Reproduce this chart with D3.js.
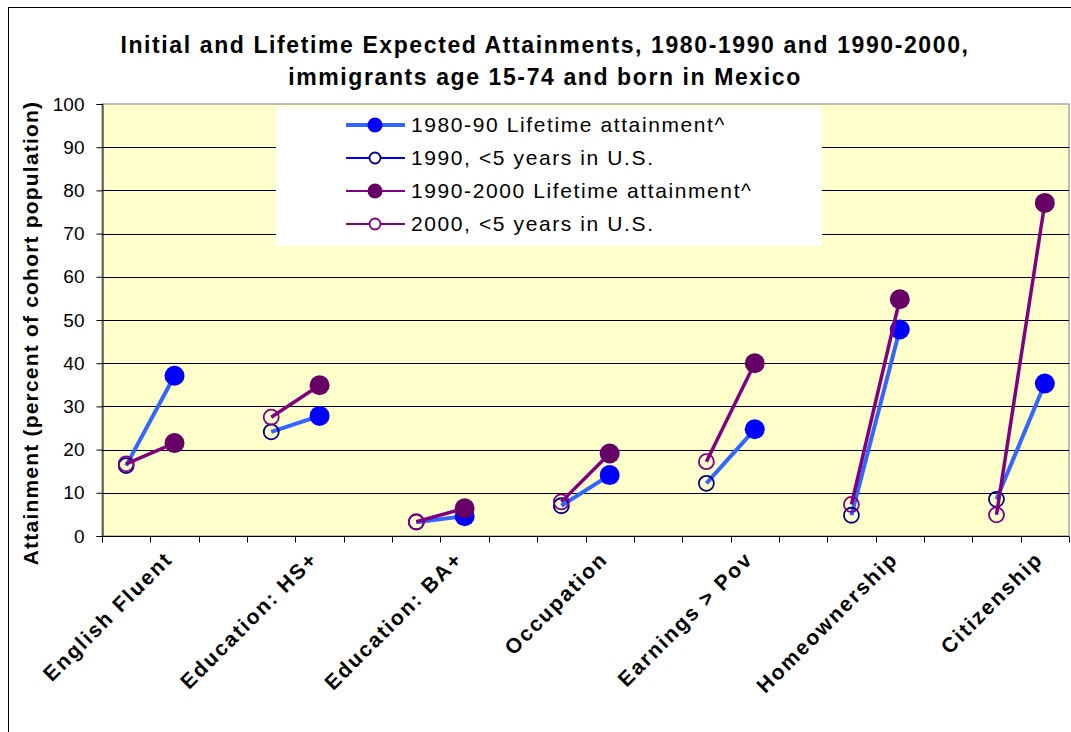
<!DOCTYPE html>
<html>
<head>
<meta charset="utf-8">
<script src="https://cdn.jsdelivr.net/npm/d3@7/dist/d3.min.js"></script>
<style>
  html, body { margin: 0; padding: 0; background: #fff; }
  svg { display: block; }
</style>
</head>
<body>
<svg id="chart" width="1071" height="732"></svg>
<script>
// ---- Data ----
const categories = ["English Fluent", "Education: HS+", "Education: BA+", "Occupation",
                    "Earnings > Pov", "Homeownership", "Citizenship"];
const initial1990   = [16.3, 24.1, 3.2, 7.0, 12.2, 4.8, 8.5];   // 1990, <5 years in U.S.
const lifetime8090  = [37.1, 27.8, 4.6, 14.1, 24.7, 47.8, 35.3]; // 1980-90 Lifetime attainment^
const initial2000   = [16.7, 27.5, 3.3, 7.9, 17.2, 7.3, 4.9];   // 2000, <5 years in U.S.
const lifetime9000  = [21.5, 34.9, 6.4, 19.1, 40.0, 54.8, 77.1]; // 1990-2000 Lifetime attainment^
const yTicks = [0, 10, 20, 30, 40, 50, 60, 70, 80, 90, 100];
const legendLabels = ["1980-90 Lifetime attainment^", "1990, <5 years in U.S.",
                      "1990-2000 Lifetime attainment^", "2000, <5 years in U.S."];
const titleLines = ["Initial and Lifetime Expected Attainments, 1980-1990 and 1990-2000,",
                    "immigrants age 15-74 and born in Mexico"];
const yTitle = "Attainment (percent of cohort population)";

// ---- Layout ----
const svg = d3.select("#chart");
const plot = { left: 102, right: 1069, top: 104, bottom: 536 };

// 20 slots: per category [initial, lifetime, gap], last without gap
const slots = [];
categories.forEach((c, i) => {
  slots.push(c + "|init");
  slots.push(c + "|life");
  if (i < categories.length - 1) slots.push(c + "|gap");
});

const x = d3.scaleBand().domain(slots).range([plot.left, plot.right]).paddingInner(0).paddingOuter(0);
const y = d3.scaleLinear().domain([0, 100]).range([plot.bottom, plot.top]);
const xc = s => x(s) + x.bandwidth() / 2;

const font = "'Liberation Sans', Arial, sans-serif";

// outer border
svg.append("rect").attr("x", 8.5).attr("y", 7.5).attr("width", 1100).attr("height", 800)
  .attr("fill", "#fff").attr("stroke", "#000").attr("stroke-width", 1);

// plot area
svg.append("rect").attr("x", plot.left).attr("y", plot.top)
  .attr("width", plot.right - plot.left).attr("height", plot.bottom - plot.top)
  .attr("fill", "#FFFFCC").attr("stroke", "#808080").attr("stroke-width", 1);

// gridlines
svg.append("g").selectAll("line").data(yTicks.filter(t => t > 0 && t < 100)).join("line")
  .attr("x1", plot.left).attr("x2", plot.right)
  .attr("y1", d => Math.round(y(d)) + 0.5).attr("y2", d => Math.round(y(d)) + 0.5)
  .attr("stroke", "#000").attr("stroke-width", 1);

// y axis
const yAxis = d3.axisLeft(y).tickValues(yTicks).tickSize(6).tickPadding(12);
const gy = svg.append("g").attr("transform", `translate(${plot.left + 0.5},0)`).call(yAxis);
gy.select(".domain").attr("stroke", "#000");
gy.selectAll(".tick line").attr("stroke", "#000");
gy.selectAll("text").attr("font-family", font).attr("font-size", 19).attr("fill", "#000");

// x axis (ticks at band boundaries)
const xAxisG = svg.append("g").attr("transform", `translate(0,${plot.bottom + 0.5})`);
xAxisG.append("line").attr("x1", plot.left).attr("x2", plot.right).attr("stroke", "#000");
const boundaries = slots.map(s => x(s)).concat([plot.right]);
xAxisG.selectAll("line.tk").data(boundaries).join("line").attr("class", "tk")
  .attr("x1", d => Math.round(d) + 0.5).attr("x2", d => Math.round(d) + 0.5)
  .attr("y1", 0).attr("y2", 6).attr("stroke", "#000");

// category labels
svg.append("g").selectAll("text").data(categories).join("text")
  .attr("transform", d => `translate(${xc(d + "|life") - 11},${plot.bottom + 14}) rotate(-45)`)
  .attr("text-anchor", "end").attr("dy", "0.7em")
  .attr("font-family", font).attr("font-weight", "bold").attr("font-size", 21)
  .attr("letter-spacing", 2)
  .attr("fill", "#000").text(d => d);

// series
const series = [
  { init: initial1990, life: lifetime8090, line: "#3366FF", lw: 4, fill: "#0000FF", open: "#000080" },
  { init: initial2000, life: lifetime9000, line: "#800080", lw: 3.5, fill: "#660066", open: "#800080" }
];
series.forEach(s => {
  const g = svg.append("g");
  g.selectAll("line").data(categories).join("line")
    .attr("x1", (c) => xc(c + "|init")).attr("y1", (c, i) => y(s.init[i]))
    .attr("x2", (c) => xc(c + "|life")).attr("y2", (c, i) => y(s.life[i]))
    .attr("stroke", s.line).attr("stroke-width", s.lw).attr("stroke-linecap", "butt");
  g.selectAll("circle.o").data(categories).join("circle").attr("class", "o")
    .attr("cx", c => xc(c + "|init")).attr("cy", (c, i) => y(s.init[i])).attr("r", 7.5)
    .attr("fill", "none").attr("stroke", s.open).attr("stroke-width", 1.8);
  g.selectAll("circle.f").data(categories).join("circle").attr("class", "f")
    .attr("cx", c => xc(c + "|life")).attr("cy", (c, i) => y(s.life[i])).attr("r", 10)
    .attr("fill", s.fill);
});

// legend
const lg = svg.append("g");
lg.append("rect").attr("x", 276).attr("y", 107).attr("width", 546).attr("height", 139).attr("fill", "#fff");
const legendItems = [
  { label: legendLabels[0], line: "#3366FF", lw: 4, marker: "filled", color: "#0000FF" },
  { label: legendLabels[1], line: "#0000FF", lw: 2, marker: "open", color: "#000080" },
  { label: legendLabels[2], line: "#800080", lw: 2, marker: "filled", color: "#660066" },
  { label: legendLabels[3], line: "#800080", lw: 2, marker: "open", color: "#800080" }
];
const rowY = [125, 158, 191, 224];
legendItems.forEach((it, i) => {
  const yy = rowY[i];
  lg.append("line").attr("x1", 346).attr("x2", 405).attr("y1", yy).attr("y2", yy)
    .attr("stroke", it.line).attr("stroke-width", it.lw);
  if (it.marker === "filled") {
    lg.append("circle").attr("cx", 375).attr("cy", yy).attr("r", 7.5).attr("fill", it.color);
  } else {
    lg.append("circle").attr("cx", 375).attr("cy", yy).attr("r", 5.5).attr("fill", "#fff")
      .attr("stroke", it.color).attr("stroke-width", 1.8);
  }
  lg.append("text").attr("x", 411).attr("y", yy).attr("dy", "0.35em")
    .attr("font-family", font).attr("font-size", 21).attr("letter-spacing", 1.6)
    .attr("fill", "#000").text(it.label);
});

// title
svg.append("g").selectAll("text").data(titleLines).join("text")
  .attr("x", 545).attr("y", (d, i) => 53 + i * 32).attr("text-anchor", "middle")
  .attr("font-family", font).attr("font-weight", "bold").attr("font-size", 23)
  .attr("letter-spacing", 1.6)
  .attr("fill", "#000").text(d => d);

// y title
svg.append("text").attr("transform", `translate(38,333) rotate(-90)`)
  .attr("text-anchor", "middle").attr("font-family", font).attr("font-weight", "bold")
  .attr("font-size", 21).attr("letter-spacing", 1.2).attr("fill", "#000").text(yTitle);
</script>
</body>
</html>
